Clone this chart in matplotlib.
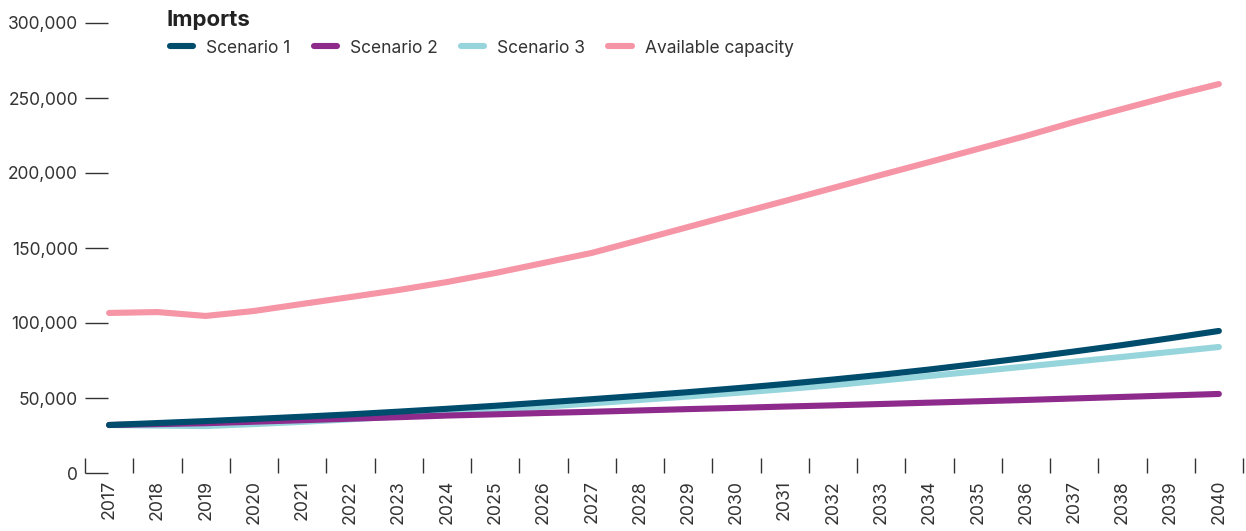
import matplotlib
matplotlib.use("Agg")
import matplotlib.pyplot as plt
from matplotlib.lines import Line2D
import numpy as np

years = [str(y) for y in range(2017, 2041)]

scenario_1 = [32000, 33300, 34600, 36000, 37500, 39100, 40900, 42800, 44800,
              47000, 49200, 51500, 53900, 56500, 59300, 62300, 65500, 69000,
              72800, 76800, 81000, 85300, 89900, 94700]
scenario_2 = [32000, 32600, 33200, 34200, 35200, 36200, 37200, 38300, 39100,
              40000, 40800, 41700, 42600, 43400, 44300, 45100, 46000, 46900,
              47800, 48700, 49700, 50700, 51700, 52700]
scenario_3 = [32000, 31600, 31300, 32600, 34100, 35800, 37700, 39800, 42000,
              44200, 46400, 48700, 51000, 53400, 55900, 58500, 61600, 64700,
              67800, 71000, 74200, 77400, 80700, 84000]
available_capacity = [106700, 107300, 104700, 108000, 112700, 117300, 122000,
                      127300, 133300, 140000, 146700, 155300, 164000, 172700,
                      181300, 190000, 198700, 207300, 216000, 224700, 234000,
                      242700, 251300, 259300]

series_names = ["Scenario 1", "Scenario 2", "Scenario 3", "Available capacity"]
colors = ["#004C6D", "#8E2A8C", "#96D5DC", "#F595A6"]
yticks = [0, 50000, 100000, 150000, 200000, 250000, 300000]

plt.rcParams['font.family'] = ['Inter', 'DejaVu Sans']
text_color = "#333333"

W, H = 1246, 531
fig = plt.figure(figsize=(W / 100, H / 100), dpi=100)
ax = fig.add_axes([85 / W, (H - 473) / H, (1243 - 85) / W, (473 - 23) / H])

x = np.arange(len(years))
lw = 4.4
data = [scenario_1, scenario_2, scenario_3, available_capacity]
zorders = [5, 4, 3, 2]
for vals, c, z, name in zip(data, colors, zorders, series_names):
    ax.plot(x, vals, color=c, lw=lw, solid_capstyle='round',
            solid_joinstyle='round', zorder=z, label=name)

ax.set_xlim(-0.5, len(years) - 0.5)
ax.set_ylim(0, 300000)

for s in ax.spines.values():
    s.set_visible(False)

ax.set_yticks(yticks)
ax.set_yticklabels([f"{v:,}" for v in yticks])
ax.tick_params(axis='y', direction='in', length=16.5, width=1, color=text_color,
               labelsize=12.5, labelcolor=text_color, pad=5)

ax.set_xticks(x)
ax.set_xticklabels(years, rotation=90)
ax.tick_params(axis='x', which='major', length=0, labelsize=12.8,
               labelcolor=text_color, pad=5)
ax.set_xticks(np.arange(-0.5, len(years)), minor=True)
ax.tick_params(axis='x', which='minor', direction='in', length=11, width=1,
               color=text_color)

fig.text(167 / W, 1 - 20 / H, "Imports", fontsize=16, fontweight='bold',
         color="#222222", va='center', ha='left')

handles = [Line2D([0], [0], color=c, lw=lw, solid_capstyle='round') for c in colors]
leg = fig.legend(handles, series_names, loc='center left',
                 bbox_to_anchor=(170 / W, 1 - 48 / H), ncol=4, frameon=False,
                 fontsize=12.5, handlelength=1.35, handletextpad=0.75,
                 columnspacing=1.32, borderpad=0, borderaxespad=0)
for t in leg.get_texts():
    t.set_color(text_color)

fig.savefig("out.png", dpi=100)
